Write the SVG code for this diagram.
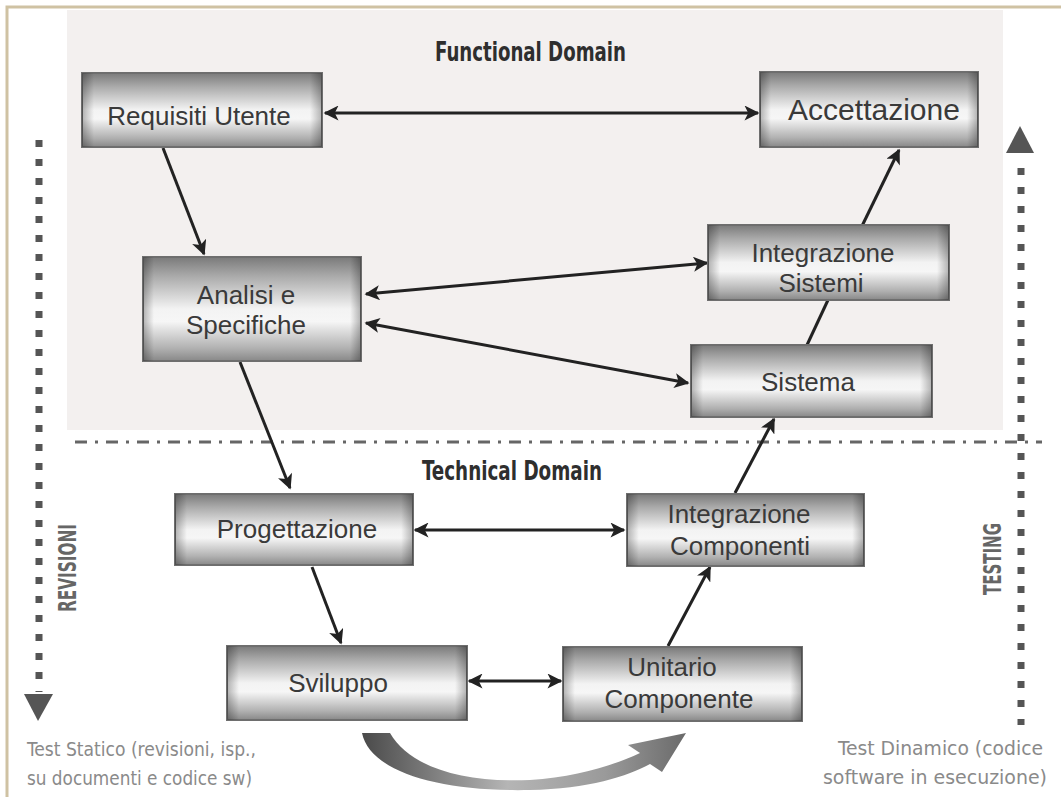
<svg xmlns="http://www.w3.org/2000/svg" width="1061" height="797" viewBox="0 0 1061 797">
<defs>
<style>
.box{fill:url(#boxV);stroke:#6e6e6e;stroke-width:2}
.side{fill:url(#boxH)}
.lbl{font-family:"Liberation Sans",Arial,sans-serif;font-size:26px;fill:#3a3a3a;text-anchor:middle}
.dom{font-family:"DejaVu Sans Condensed","Liberation Sans Narrow",sans-serif;font-weight:bold;font-size:26px;fill:#2e2e2e}
.cap{font-family:"DejaVu Sans Condensed","Liberation Sans Narrow",sans-serif;font-size:20px;fill:#8a8a8a}
.vert{font-family:"DejaVu Sans Condensed","Liberation Sans Narrow",sans-serif;font-size:24px;font-weight:bold;fill:#666;text-anchor:middle}
.con{stroke:#222;stroke-width:3;fill:none}
.dots{stroke:#555;stroke-width:7;stroke-dasharray:7 12;fill:none}
</style>
<linearGradient id="boxV" x1="0" y1="0" x2="0" y2="1">
<stop offset="0" stop-color="#7a7a7a"/>
<stop offset="0.18" stop-color="#a9a9a9"/>
<stop offset="0.5" stop-color="#f3f3f3"/>
<stop offset="0.62" stop-color="#f6f6f6"/>
<stop offset="0.88" stop-color="#b0b0b0"/>
<stop offset="1" stop-color="#888888"/>
</linearGradient>
<linearGradient id="boxH" x1="0" y1="0" x2="1" y2="0">
<stop offset="0" stop-color="#000" stop-opacity="0.28"/>
<stop offset="0.05" stop-color="#000" stop-opacity="0"/>
<stop offset="0.95" stop-color="#000" stop-opacity="0"/>
<stop offset="1" stop-color="#000" stop-opacity="0.28"/>
</linearGradient>
<linearGradient id="swoosh" x1="362" y1="0" x2="686" y2="0" gradientUnits="userSpaceOnUse">
<stop offset="0" stop-color="#4a4a4a"/>
<stop offset="0.45" stop-color="#b5b5b5"/>
<stop offset="0.75" stop-color="#9a9a9a"/>
<stop offset="1" stop-color="#6a6a6a"/>
</linearGradient>
<marker id="ah" viewBox="0 0 10 10" refX="9" refY="5" markerWidth="17" markerHeight="15" markerUnits="userSpaceOnUse" orient="auto-start-reverse">
<path d="M0,0 L10,5 L0,10 L2.5,5 z" fill="#222"/>
</marker>
</defs>

<rect x="0" y="0" width="1061" height="797" fill="#ffffff"/>
<path d="M7,797 L7,7 L1061,7" fill="none" stroke="#cfc2a3" stroke-width="3"/>
<rect x="67" y="10" width="936" height="420" fill="#f3f0ef"/>

<g id="frame-lines">
<line x1="75" y1="442" x2="1042" y2="442" stroke="#666" stroke-width="3" stroke-dasharray="12 8 3 8"/>
<line class="dots" x1="39" y1="140" x2="39" y2="692"/>
<polygon points="24,694 53,694 38,721" fill="#555"/>
<line class="dots" x1="1021" y1="168" x2="1021" y2="725"/>
<polygon points="1006,153 1034,153 1020,126" fill="#555"/>
</g>

<g id="titles">
<text class="dom" x="435" y="61" textLength="191" lengthAdjust="spacingAndGlyphs">Functional Domain</text>
<text class="dom" x="422" y="480" textLength="180" lengthAdjust="spacingAndGlyphs">Technical Domain</text>
<text class="vert" transform="translate(76,568) rotate(-90)" textLength="88" lengthAdjust="spacingAndGlyphs">REVISIONI</text>
<text class="vert" transform="translate(1001,559) rotate(-90)" textLength="72" lengthAdjust="spacingAndGlyphs">TESTING</text>
<text class="cap" x="27" y="756" textLength="229" lengthAdjust="spacingAndGlyphs">Test Statico  (revisioni, isp.,</text>
<text class="cap" x="27" y="785" textLength="225" lengthAdjust="spacingAndGlyphs">su documenti  e codice  sw)</text>
<text class="cap" x="838" y="755" textLength="205" lengthAdjust="spacingAndGlyphs">Test Dinamico  (codice</text>
<text class="cap" x="823" y="784" textLength="224" lengthAdjust="spacingAndGlyphs">software  in esecuzione)</text>
</g>

<g id="connectors">
<line class="con" x1="325" y1="113" x2="758" y2="113" marker-start="url(#ah)" marker-end="url(#ah)"/>
<line class="con" x1="163" y1="148" x2="204" y2="254" marker-end="url(#ah)"/>
<line class="con" x1="366" y1="294" x2="707" y2="263" marker-start="url(#ah)" marker-end="url(#ah)"/>
<line class="con" x1="366" y1="323" x2="688" y2="383" marker-start="url(#ah)" marker-end="url(#ah)"/>
<line class="con" x1="240" y1="362" x2="290" y2="488" marker-end="url(#ah)"/>
<line class="con" x1="415" y1="530" x2="624" y2="530" marker-start="url(#ah)" marker-end="url(#ah)"/>
<line class="con" x1="312" y1="567" x2="341" y2="643" marker-end="url(#ah)"/>
<line class="con" x1="469" y1="681" x2="561" y2="681" marker-start="url(#ah)" marker-end="url(#ah)"/>
<line class="con" x1="668" y1="646" x2="710" y2="567" marker-end="url(#ah)"/>
<line class="con" x1="735" y1="493" x2="774" y2="419" marker-end="url(#ah)"/>
<line class="con" x1="807" y1="345" x2="828" y2="300"/>
<line class="con" x1="862" y1="226" x2="899" y2="150" marker-end="url(#ah)"/>
<path d="M362,733 C370,772 440,792 530,790 C588,789 628,776 650,764 L662,772 L686,733 L628,745 L640,753 C612,766 575,777 530,780 C465,783 410,768 390,733 Z" fill="url(#swoosh)"/>
</g>

<g id="node-requisiti">
<rect class="box" x="82" y="73" width="240" height="74"/>
<rect class="side" x="82" y="73" width="240" height="74"/>
<text class="lbl" x="199" y="125">Requisiti Utente</text>
</g>
<g id="node-accettazione">
<rect class="box" x="760" y="72" width="218" height="75"/>
<rect class="side" x="760" y="72" width="218" height="75"/>
<text class="lbl" x="874" y="120" style="font-size:30px">Accettazione</text>
</g>
<g id="node-analisi">
<rect class="box" x="143" y="257" width="218" height="104"/>
<rect class="side" x="143" y="257" width="218" height="104"/>
<text class="lbl" x="246" y="304">Analisi e</text>
<text class="lbl" x="246" y="334">Specifiche</text>
</g>
<g id="node-integrazione-sistemi">
<rect class="box" x="708" y="225" width="241" height="75"/>
<rect class="side" x="708" y="225" width="241" height="75"/>
<text class="lbl" x="823" y="262">Integrazione</text>
<text class="lbl" x="821" y="292">Sistemi</text>
</g>
<g id="node-sistema">
<rect class="box" x="691" y="345" width="241" height="72"/>
<rect class="side" x="691" y="345" width="241" height="72"/>
<text class="lbl" x="808" y="391">Sistema</text>
</g>
<g id="node-progettazione">
<rect class="box" x="175" y="494" width="238" height="71"/>
<rect class="side" x="175" y="494" width="238" height="71"/>
<text class="lbl" x="297" y="538">Progettazione</text>
</g>
<g id="node-integrazione-componenti">
<rect class="box" x="627" y="494" width="237" height="72"/>
<rect class="side" x="627" y="494" width="237" height="72"/>
<text class="lbl" x="739" y="523">Integrazione</text>
<text class="lbl" x="740" y="555">Componenti</text>
</g>
<g id="node-sviluppo">
<rect class="box" x="227" y="646" width="240" height="74"/>
<rect class="side" x="227" y="646" width="240" height="74"/>
<text class="lbl" x="338" y="692">Sviluppo</text>
</g>
<g id="node-unitario">
<rect class="box" x="563" y="647" width="239" height="74"/>
<rect class="side" x="563" y="647" width="239" height="74"/>
<text class="lbl" x="672" y="676">Unitario</text>
<text class="lbl" x="679" y="708">Componente</text>
</g>
</svg>
